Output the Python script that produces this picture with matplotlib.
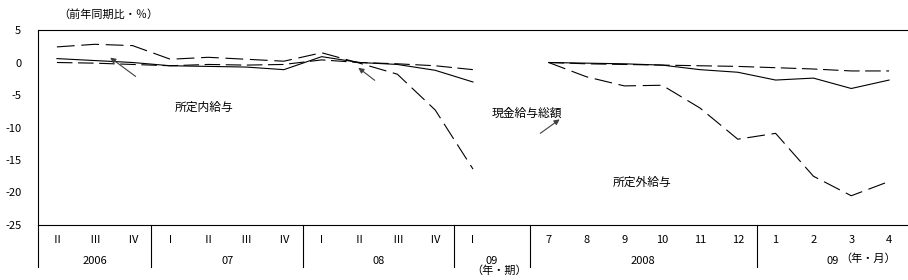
import numpy as np
import matplotlib.pyplot as plt

plt.rcParams['font.family'] = ['Noto Sans CJK JP', 'DejaVu Sans']

# quarterly part: 2006 II .. 2009 I
quarters = ['Ⅱ', 'Ⅲ', 'Ⅳ', 'Ⅰ', 'Ⅱ', 'Ⅲ', 'Ⅳ', 'Ⅰ', 'Ⅱ', 'Ⅲ', 'Ⅳ', 'Ⅰ']
total_q = [0.6, 0.3, 0.0, -0.5, -0.6, -0.7, -1.1, 0.9, 0.0, -0.3, -1.2, -3.0]
sched_q = [0.0, -0.1, -0.3, -0.5, -0.3, -0.4, -0.3, 0.4, 0.0, -0.2, -0.5, -1.1]
over_q = [2.4, 2.8, 2.6, 0.5, 0.8, 0.5, 0.2, 1.5, -0.1, -1.8, -7.3, -16.4]

# monthly part: 2008/7 .. 2009/4
months = ['7', '8', '9', '10', '11', '12', '1', '2', '3', '4']
total_m = [0.0, -0.1, -0.2, -0.4, -1.1, -1.5, -2.7, -2.4, -4.0, -2.7]
sched_m = [0.0, -0.2, -0.3, -0.4, -0.5, -0.6, -0.8, -1.0, -1.3, -1.3]
over_m = [0.0, -2.2, -3.6, -3.5, -7.0, -11.8, -10.9, -17.5, -20.5, -18.3]

year_labels = ['2006', '07', '08', '09', '2008', '09']
year_pos = [1, 4.5, 8.5, 11.5, 15.5, 20.5]
yticks = [5, 0, -5, -10, -15, -20, -25]

xq = np.arange(len(quarters))
xm = np.arange(len(months)) + len(quarters) + 1   # one empty slot between parts

fig = plt.figure(figsize=(9.08, 2.8), dpi=100)
ax = fig.add_axes([38 / 908, 55 / 280, 870 / 908, 195 / 280])

for xs, t, s, o in [(xq, total_q, sched_q, over_q), (xm, total_m, sched_m, over_m)]:
    ax.plot(xs, t, color='black', lw=0.8)
    ax.plot(xs, s, color='black', lw=0.8, dashes=(14, 5))
    ax.plot(xs, o, color='black', lw=0.8, dashes=(16, 6))

ax.set_xlim(-0.5, 22.5)
ax.set_ylim(-25, 5)
ax.set_yticks(yticks)
ax.set_yticklabels([str(v) for v in yticks], fontsize=8)
ax.tick_params(axis='y', length=0, pad=12)
ax.set_xticks([])
ax.spines['right'].set_visible(False)
for s in ['top', 'left', 'bottom']:
    ax.spines[s].set_linewidth(0.8)

# category table below the axis
tr = ax.get_xaxis_transform()
for x, lab in zip(list(xq) + list(xm), quarters + months):
    ax.text(x, -0.077, lab, transform=tr, ha='center', va='center', fontsize=8)
for x, lab in zip(year_pos, year_labels):
    ax.text(x, -0.185, lab, transform=tr, ha='center', va='center', fontsize=8)
for x in [-0.5, 2.5, 6.5, 10.5, 12.5, 18.5]:
    ax.plot([x, x], [0, -0.215], transform=tr, color='black', lw=0.8, clip_on=False)
ax.text(11.7, -0.235, '（年・期）', transform=tr, ha='center', va='center', fontsize=8)
ax.text(21.45, -0.17, '（年・月）', transform=tr, ha='center', va='center', fontsize=8)

fig.text(58 / 908, 1 - 15 / 280, '（前年同期比・％）', ha='left', va='center', fontsize=8)

# labels and arrows
arr = dict(arrowstyle='-|>', color='#404040', lw=0.8, mutation_scale=8)
ax.annotate('', xy=(1.35, 1.0), xytext=(2.14, -2.4), arrowprops=arr)
ax.annotate('', xy=(7.91, -0.55), xytext=(8.46, -3.0), arrowprops=arr)
ax.annotate('', xy=(13.35, -8.5), xytext=(12.72, -11.15), arrowprops=arr)
ax.text(3.89, -6.85, '所定内給与', ha='center', va='center', fontsize=8.5)
ax.text(12.43, -7.8, '現金給与総額', ha='center', va='center', fontsize=8.5)
ax.text(15.47, -18.4, '所定外給与', ha='center', va='center', fontsize=8.5)

fig.savefig('out.png', dpi=100)
